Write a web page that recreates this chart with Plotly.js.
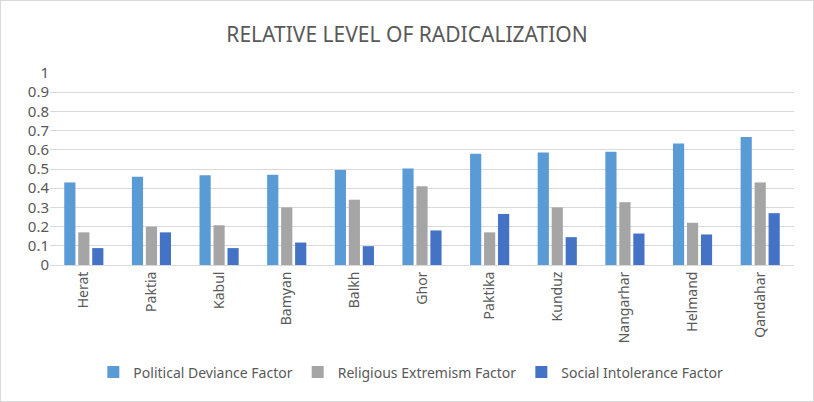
<!DOCTYPE html>
<html><head><meta charset="utf-8">
<script src="https://cdn.plot.ly/plotly-3.0.1.min.js"></script>
<style>html,body{margin:0;padding:0;background:#fff}#c{width:812px;height:400px;border:1px solid #d9d9d9}</style>
</head><body><div id="c"></div>
<script>
const provinces = ["Herat","Paktia","Kabul","Bamyan","Balkh","Ghor","Paktika","Kunduz","Nangarhar","Helmand","Qandahar"];
const political = [0.43,0.46,0.467,0.47,0.495,0.503,0.58,0.586,0.59,0.633,0.667];
const religious = [0.17,0.20,0.207,0.30,0.34,0.41,0.17,0.30,0.327,0.22,0.43];
const social = [0.088,0.17,0.088,0.117,0.098,0.18,0.266,0.145,0.164,0.159,0.27];
const names = ["Political Deviance Factor","Religious Extremism Factor","Social Intolerance Factor"];
const colors = ["#5B9BD5","#A5A5A5","#4472C4"];
const series = [political, religious, social];
const traces = series.map((v,i)=>({type:"bar",x:provinces,y:v,name:names[i],marker:{color:colors[i]}}));
const layout = {
  width:812,height:400,
  margin:{l:49,r:19,t:72,b:127},
  paper_bgcolor:"#fff",plot_bgcolor:"#fff",
  font:{family:"Noto Sans, sans-serif",color:"#595959",size:13},
  title:{text:"RELATIVE LEVEL OF RADICALIZATION",font:{size:21,color:"#595959"},x:0.5,xanchor:"center",y:0.915,yanchor:"middle"},
  barmode:"group",bargap:0.38,bargroupgap:0.2,
  xaxis:{tickangle:-90,showgrid:false,showline:true,linecolor:"#d9d9d9",ticks:"",tickfont:{size:14,color:"#595959"}},
  yaxis:{range:[0,1],dtick:0.1,gridcolor:"#d9d9d9",zeroline:false,showline:false,ticks:"",tickfont:{size:15,color:"#595959"},tickformat:"~g"},
  legend:{orientation:"h",x:0.485,xanchor:"center",y:-0.56,yanchor:"middle",font:{size:14,color:"#595959"},itemwidth:30,traceorder:"normal"},
  showlegend:true
};
Plotly.newPlot("c",traces,layout,{displayModeBar:false});
</script></body></html>
